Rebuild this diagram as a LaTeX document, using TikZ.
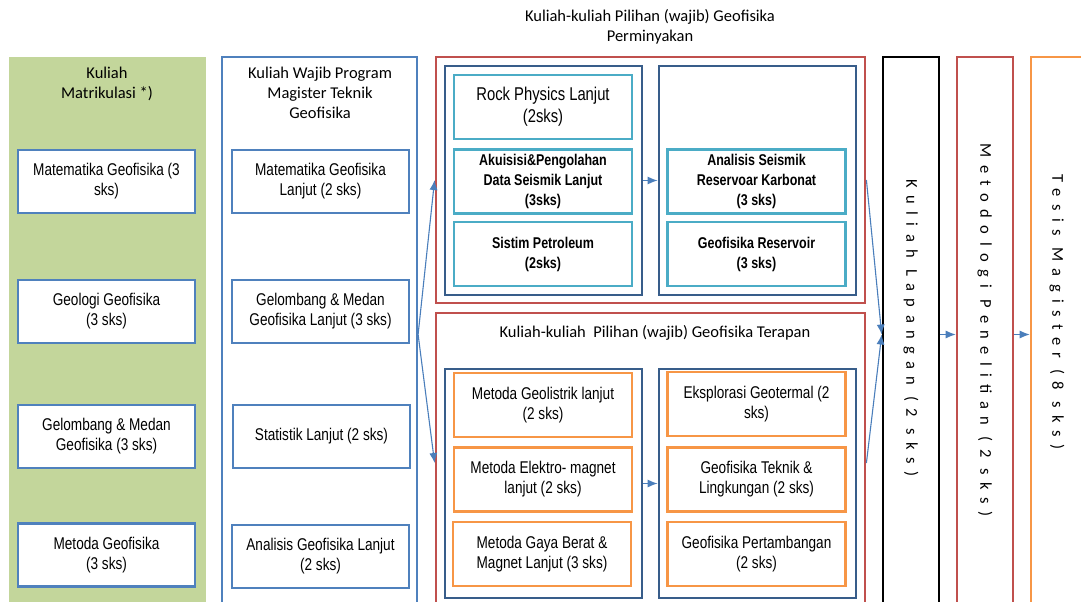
\documentclass[tikz,border=0pt]{standalone}
\usepackage{fontspec}
\setmainfont{Carlito}
\newfontfamily\narrowfont[FakeStretch=0.8]{Liberation Sans}
\usetikzlibrary{arrows.meta}

\definecolor{matgreen}{HTML}{C3D69B}
\definecolor{wblue}{HTML}{4F81BD}
\definecolor{pred}{HTML}{C0504D}
\definecolor{gblue}{HTML}{385D8A}
\definecolor{ccyan}{HTML}{4BACC6}
\definecolor{corange}{HTML}{F79646}
\definecolor{arrblue}{HTML}{4A7EBB}

\begin{document}
\begin{tikzpicture}[x=1pt,y=-1pt,
  course/.style={draw=wblue, line width=2.8pt, fill=white, minimum width=177pt,
    minimum height=63pt, align=center, inner sep=0pt,
    font=\narrowfont\fontsize{17}{20}\selectfont},
  pbox/.style={course, draw=ccyan, minimum width=178pt, minimum height=64pt,
    font=\narrowfont\bfseries\fontsize{15.6}{20}\selectfont},
  tbox/.style={course, draw=corange, minimum width=178pt, minimum height=64pt},
  grp/.style={draw=gblue, line width=2.8pt, minimum width=197pt, minimum height=229pt, inner sep=0pt},
  colbox/.style={line width=2.6pt, minimum width=#1, minimum height=555pt, inner sep=0pt},
  title/.style={align=center, font=\fontsize{16.5}{20}\selectfont},
  vtext/.style={rotate=-90, font=\fontsize{16.5}{18}\selectfont\addfontfeatures{LetterSpace=45}},
  flow/.style={-{Latex[length=10pt,width=8pt]}, draw=arrblue, line width=1.1pt}]

\useasboundingbox (0,0) rectangle (1081,602);
\clip (0,0) rectangle (1081,602);

% kolom matrikulasi
\node[colbox=197pt, fill=matgreen, line width=0pt] (mat) at (107.5,334.5) {};
\node[title] (mattitle) at (107,84) {Kuliah\\Matrikulasi *)};
\node[course] (m1) at (106.5,181.5) {Matematika Geofisika (3\\sks)};
\node[course] (m2) at (106.5,311.5) {Geologi Geofisika\\(3 sks)};
\node[course] (m3) at (106.5,436.5) {Gelombang \& Medan\\Geofisika (3 sks)};
\node[course] (m4) at (106.5,555) {Metoda Geofisika\\(3 sks)};

% kolom wajib
\node[colbox=195pt, draw=wblue, line width=2.2pt] (wajib) at (319.5,334.5) {};
\node[title] (wajibtitle) at (320,93) {Kuliah Wajib Program\\Magister Teknik\\Geofisika};
\node[course] (w1) at (320.5,181.5) {Matematika Geofisika\\Lanjut (2 sks)};
\node[course] (w2) at (320.5,311.5) {Gelombang \& Medan\\Geofisika Lanjut (3 sks)};
\node[course] (w3) at (321.5,436.5) {Statistik Lanjut (2 sks)};
\node[course] (w4) at (320.5,556.5) {Analisis Geofisika Lanjut\\(2 sks)};

% pilihan perminyakan
\node[title] (pmytitle) at (650,27) {Kuliah-kuliah Pilihan (wajib) Geofisika\\Perminyakan};
\node[draw=pred, line width=2.8pt, minimum width=429pt, minimum height=246pt, inner sep=0pt] (pmy) at (650.5,180) {};
\node[grp] (pmyA) at (543.5,180.5) {};
\node[grp] (pmyB) at (757.5,180.5) {};
\node[pbox, font=\narrowfont\fontsize{18.5}{22}\selectfont] (p1) at (543,107) {Rock Physics Lanjut\\(2sks)};
\node[pbox] (p2) at (543,181.5) {Akuisisi\&Pengolahan\\Data Seismik Lanjut\\(3sks)};
\node[pbox] (p3) at (543,254) {Sistim Petroleum\\(2sks)};
\node[pbox] (p4) at (756.5,181.5) {Analisis Seismik\\Reservoar Karbonat\\(3 sks)};
\node[pbox] (p5) at (756.5,254) {Geofisika Reservoir\\(3 sks)};

% pilihan terapan
\node[draw=pred, line width=2.8pt, minimum width=429pt, minimum height=300pt, inner sep=0pt] (trp) at (650.5,463) {};
\node[title] (trptitle) at (655,333) {Kuliah-kuliah\ \ Pilihan (wajib) Geofisika Terapan};
\node[grp] (trpA) at (543.5,483.5) {};
\node[grp] (trpB) at (757.5,483.5) {};
\node[tbox] (t1) at (543,405) {Metoda Geolistrik lanjut\\(2 sks)};
\node[tbox] (t2) at (543,479.5) {Metoda Elektro- magnet\\lanjut (2 sks)};
\node[tbox] (t3) at (542,554) {Metoda Gaya Berat \&\\Magnet Lanjut (3 sks)};
\node[tbox] (t4) at (756.5,404) {Eksplorasi Geotermal (2\\sks)};
\node[tbox] (t5) at (756.5,479.5) {Geofisika Teknik \&\\Lingkungan (2 sks)};
\node[tbox] (t6) at (756.5,554) {Geofisika Pertambangan\\(2 sks)};

% kolom kanan
\node[colbox=56pt, draw=black] (lap) at (911,334.5) {};
\node[vtext] (laptext) at (911,328) {Kuliah Lapangan (2 sks)};
\node[colbox=56pt, draw=pred] (met) at (985,334.5) {};
\node[vtext] (mettext) at (985,330) {Metodologi Penelitian (2 sks)};
\node[colbox=56pt, draw=corange] (tes) at (1059,334.5) {};
\node[vtext] (testext) at (1057,312) {Tesis Magister (8 sks)};

\draw[flow] (wajib.east) -- (pmy.west);
\draw[flow] (wajib.east) -- (trp.west);
\draw[flow] (pmyA.east) -- (pmyB.west);
\draw[flow] (trpA.east) -- (trpB.west);
\draw[flow] (pmy.east) -- (lap.west);
\draw[flow] (trp.east) -- (lap.west);
\draw[flow] (lap.east) -- (met.west);
\draw[flow] (met.east) -- (tes.west);

\end{tikzpicture}
\end{document}
